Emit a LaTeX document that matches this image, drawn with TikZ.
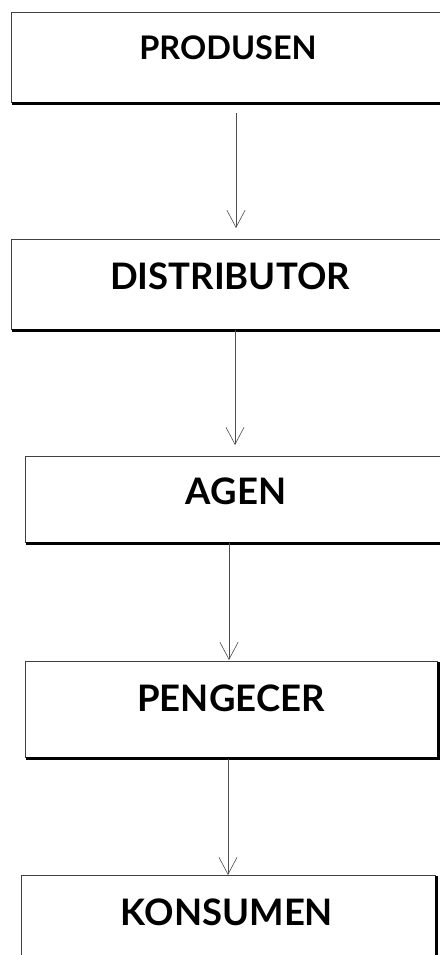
\documentclass[tikz,border=0pt]{standalone}
\usepackage{fontspec}
\setmainfont{Lato}[UprightFont=* Bold]
\usetikzlibrary{arrows.meta}
\begin{document}
\begin{tikzpicture}[x=1pt,y=-1pt,
  box/.style={draw=black!75,line width=0.9pt,minimum width=#1,inner sep=0pt},
  lbl/.style={font=\fontsize{36.5}{42}\selectfont,inner sep=0pt,text=black},
  lblsmall/.style={lbl,font=\fontsize{32.5}{38}\selectfont},
  shade/.style={line width=3pt,black},
  flow/.style={draw=black!70,line width=0.8pt,-{Straight Barb[length=17pt,width=18pt,line width=0.6pt]}}]
\useasboundingbox (0,0) rectangle (439,955);
\fill[white] (0,0) rectangle (439,955);
% boxes
\node[box=430pt,minimum height=90pt] (b1) at (226,57) {};
\node[box=430pt,minimum height=90pt] (b2) at (226,284) {};
\node[box=416pt,minimum height=86pt] (b3) at (233,499) {};
\node[box=412pt,minimum height=96pt] (b4) at (231,709) {};
\node[box=414pt,minimum height=100pt] (b5) at (228,925) {};
% shadows
\foreach \b in {b1,b2,b3,b4,b5}{
  \draw[shade] ([shift={(1,1.5)}]\b.south west) -- ([shift={(1.5,1.5)}]\b.south east) -- ([shift={(1.5,1)}]\b.north east);
}
% labels
\node[lblsmall] (t1) at (228,48) {PRODUSEN};
\node[lbl] (t2) at (230,276) {DISTRIBUTOR};
\node[lbl] (t3) at (236,491) {AGEN};
\node[lbl] (t4) at (231,698) {PENGECER};
\node[lbl] (t5) at (227,912) {KONSUMEN};
% arrow ends
\coordinate (a1s) at (236,113); \coordinate (a1e) at (236,228);
\coordinate (a2s) at (235,330); \coordinate (a2e) at (235,445);
\coordinate (a3s) at (229,543); \coordinate (a3e) at (229,660);
\coordinate (a4s) at (228,759); \coordinate (a4e) at (228,875);
\draw[flow] (a1s) -- (a1e);
\draw[flow] (a2s) -- (a2e);
\draw[flow] (a3s) -- (a3e);
\draw[flow] (a4s) -- (a4e);
\end{tikzpicture}
\end{document}
